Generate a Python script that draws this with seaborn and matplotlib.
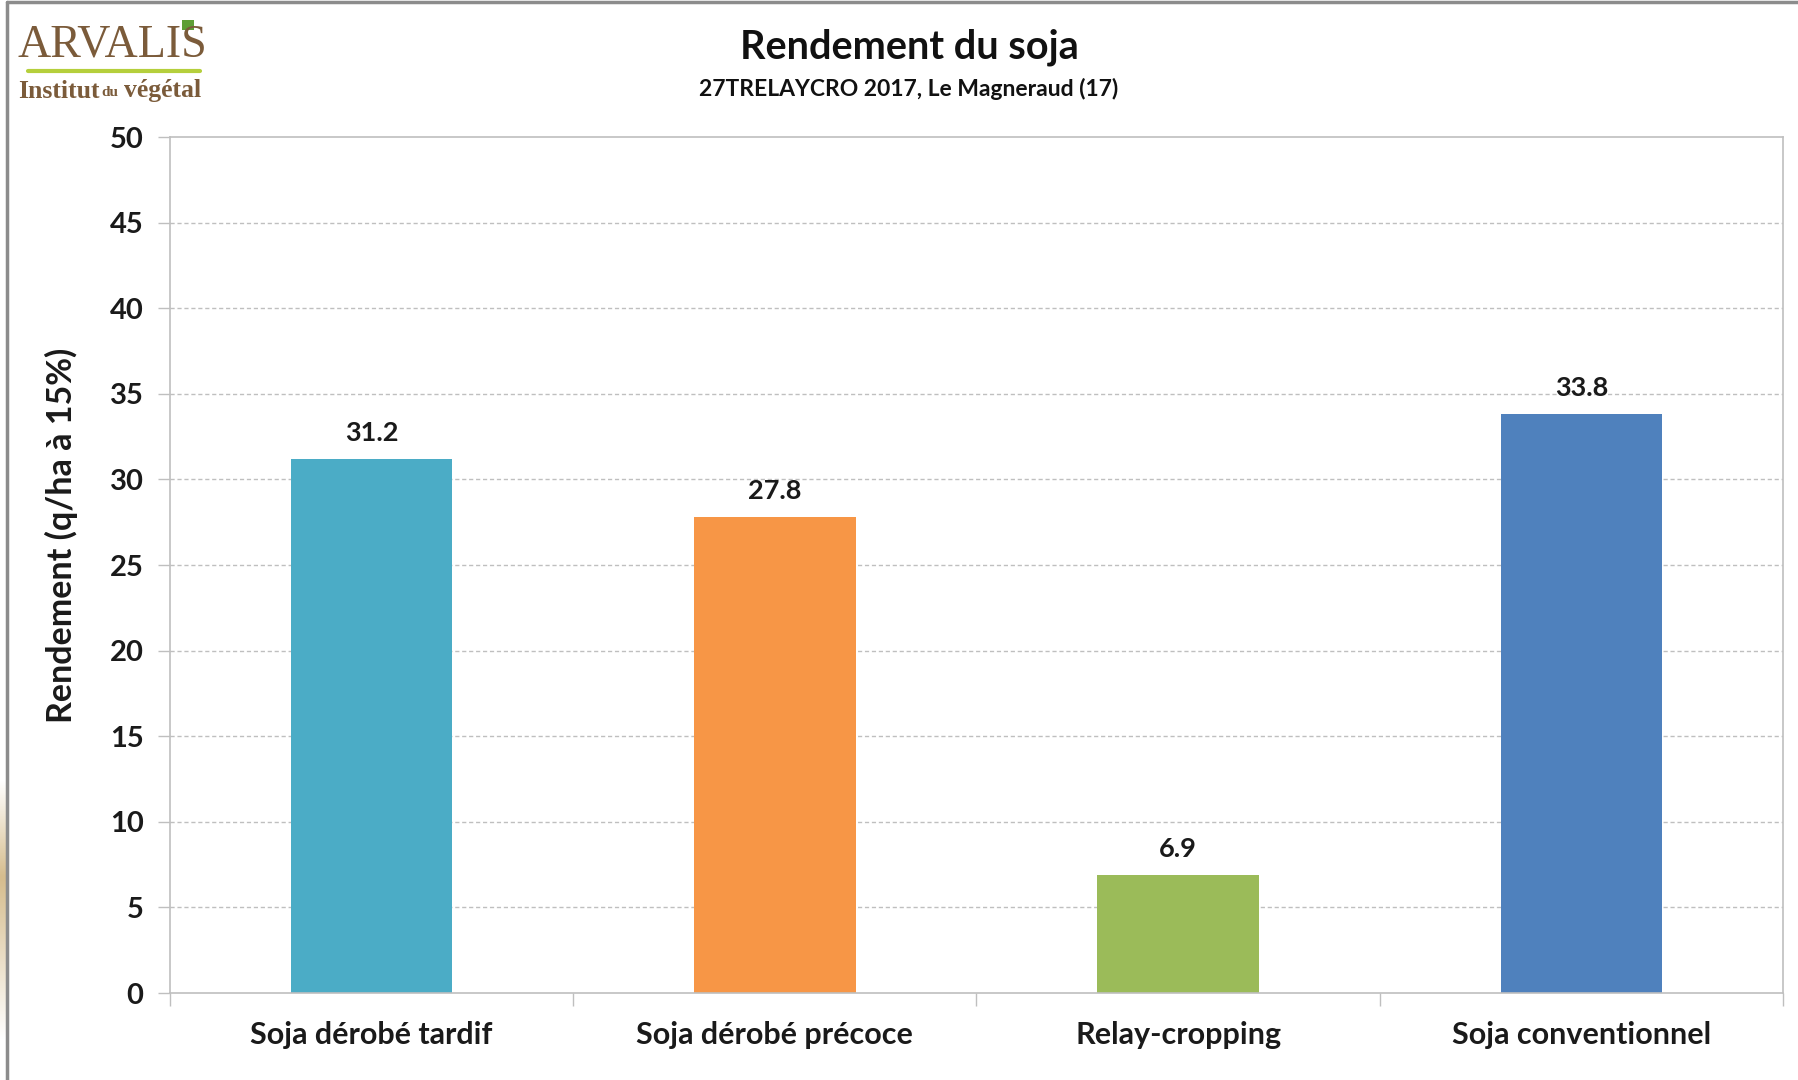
import matplotlib
matplotlib.use("Agg")
import matplotlib.pyplot as plt
import seaborn as sns
import pandas as pd
import numpy as np
from matplotlib.lines import Line2D
from matplotlib.patches import Rectangle
from matplotlib.colors import LinearSegmentedColormap

categories = ["Soja dérobé tardif", "Soja dérobé précoce", "Relay-cropping", "Soja conventionnel"]
values = [31.2, 27.8, 6.9, 33.8]
value_labels = ["31.2", "27.8", "6.9", "33.8"]
colors = ["#4BACC6", "#F79646", "#9BBB59", "#4F81BD"]
yticks = [0, 5, 10, 15, 20, 25, 30, 35, 40, 45, 50]

title = "Rendement du soja"
subtitle = "27TRELAYCRO 2017, Le Magneraud (17)"
ylabel = "Rendement (q/ha à 15%)"

sns.set_theme(style="white")
plt.rcParams['font.family'] = ['Lato', 'DejaVu Sans']

W, H = 1799, 1080
fig = plt.figure(figsize=(W / 100, H / 100), dpi=100)
fig.patch.set_facecolor("white")

ax = fig.add_axes([170 / W, 1 - 993 / H, (1783 - 170) / W, (993 - 137) / H])

df = pd.DataFrame({"cat": categories, "val": values})
sns.barplot(data=df, x="cat", y="val", hue="cat", palette=colors, width=0.4,
            legend=False, ax=ax, saturation=1, linewidth=0)

ax.set_xlim(-0.5, len(categories) - 0.5)
ax.set_ylim(0, 50)
ax.set_yticks(yticks)
ax.set_yticklabels([str(t) for t in yticks], fontsize=21, fontweight="bold", color="#1a1a1a")
ax.set_xticks(range(len(categories)))
ax.set_xticklabels(categories, fontsize=22, fontweight="bold", color="#1a1a1a")
ax.tick_params(axis="x", length=0, pad=20)
ax.tick_params(axis="y", length=9, width=1, color="#BFBFBF", pad=10, left=True)
# boundary tick marks on x axis
ax.set_xticks([i - 0.5 for i in range(len(categories) + 1)], minor=True)
ax.tick_params(axis="x", which="minor", length=9, width=1, color="#BFBFBF", bottom=True)

for y in yticks[1:-1]:
    ax.axhline(y, color="#BFBFBF", linestyle=(0, (3, 2)), linewidth=1, zorder=0)
for s in ax.spines.values():
    s.set_visible(True)
    s.set_color("#BFBFBF")
    s.set_linewidth(1.2)
ax.set_axisbelow(True)

ax.set_xlabel("")
ax.set_ylabel(ylabel, fontsize=24.5, fontweight="bold", color="#1a1a1a")
ax.yaxis.set_label_coords(-0.057, 0.535)

for i, (v, lab) in enumerate(zip(values, value_labels)):
    ax.annotate(lab, (i, v), xytext=(0, 10), textcoords="offset points",
                ha="center", va="bottom", fontsize=19.5, fontweight="bold", color="#1a1a1a")

# Titles
fig.text(909 / W, 1 - 47 / H, title, ha="center", va="center", fontsize=28.5,
         fontweight="bold", color="#111111")
fig.text(909 / W, 1 - 89 / H, subtitle, ha="center", va="center", fontsize=16.5,
         fontweight="bold", color="#111111")

# Logo
fig.text(112 / W, 1 - 45 / H, "ARVALIS", ha="center", va="center", fontsize=33,
         family="Liberation Serif", color="#7B5B3A")
fig.add_artist(Line2D([28 / W, 200 / W], [1 - 71 / H, 1 - 71 / H], color="#B5CF3C",
                      linewidth=3, transform=fig.transFigure))
fig.text(18 / W, 1 - 91 / H, "Institut", ha="left", va="center", fontsize=18.5,
         family="Liberation Serif", fontweight="bold", color="#7B5B3A")
fig.text(110 / W, 1 - 93 / H, "du", ha="center", va="center", fontsize=11,
         family="Liberation Serif", fontweight="bold", color="#7B5B3A")
fig.text(124 / W, 1 - 91 / H, "végétal", ha="left", va="center", fontsize=18.5,
         family="Liberation Serif", fontweight="bold", color="#7B5B3A")
fig.add_artist(Rectangle((182 / W, 1 - 30 / H), 12 / W, 10 / H, transform=fig.transFigure,
                         facecolor="#5E9E35", edgecolor="none"))

# Slide frame
fig.add_artist(Line2D([7 / W, 1], [1 - 2 / H, 1 - 2 / H], color="#8C8C8C", linewidth=2.5,
                      transform=fig.transFigure))
fig.add_artist(Line2D([7 / W, 7 / W], [0, 1 - 2 / H], color="#8C8C8C", linewidth=2.5,
                      transform=fig.transFigure))
swoosh = fig.add_axes([0, 1 - 1040 / H, 6 / W, 260 / H])
swoosh.axis("off")
grad = np.concatenate([np.linspace(0, 1, 60), np.linspace(1, 0, 100)])[:, None]
cm = LinearSegmentedColormap.from_list("sw", ["#FFFFFF", "#D6BD8E"])
swoosh.imshow(grad, aspect="auto", cmap=cm, vmin=0, vmax=1)

fig.savefig("out.png", dpi=100, facecolor="white")
